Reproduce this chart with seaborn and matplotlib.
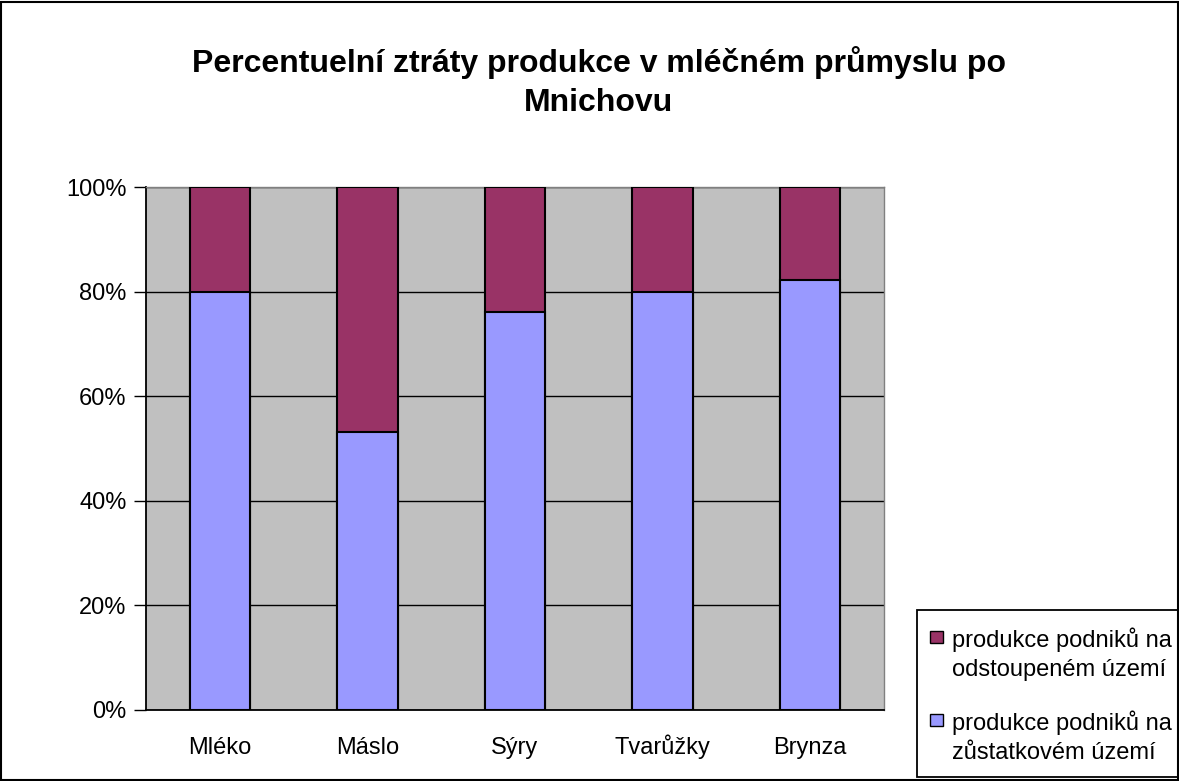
import matplotlib
matplotlib.use("Agg")
import matplotlib.pyplot as plt
import seaborn as sns
import pandas as pd
from matplotlib.patches import Rectangle

# data
kategorie = ["Mléko", "Máslo", "Sýry", "Tvarůžky", "Brynza"]
zustatkove = [80.0, 53.2, 76.1, 80.0, 82.2]      # produkce na zůstatkovém území (%)
odstoupene = [20.0, 46.8, 23.9, 20.0, 17.8]      # produkce na odstoupeném území (%)
y_ticks = [0, 20, 40, 60, 80, 100]
legenda = ["produkce podniků na\nodstoupeném území", "produkce podniků na\nzůstatkovém území"]

df = pd.DataFrame({"kat": kategorie, "zust": zustatkove, "odst": odstoupene})
df["celkem"] = df["zust"] + df["odst"]

sns.set_style("white")
plt.rcParams["font.family"] = ["Liberation Sans", "DejaVu Sans"]
plt.rcParams["text.color"] = "black"
plt.rcParams["xtick.color"] = "black"
plt.rcParams["ytick.color"] = "black"

W, H = 1179, 781
fig = plt.figure(figsize=(W / 100, H / 100), dpi=100)
ax = fig.add_axes([146/W, 71/H, 738/W, 523/H])
ax.set_facecolor("#C0C0C0")

cerv = "#993366"
modr = "#9999FF"

# stacked bars: full height in maroon, blue part on top of it
sns.barplot(data=df, x="kat", y="celkem", color=cerv, width=0.41, saturation=1,
            edgecolor="black", linewidth=1.5, ax=ax, zorder=3)
sns.barplot(data=df, x="kat", y="zust", color=modr, width=0.41, saturation=1,
            edgecolor="black", linewidth=1.5, ax=ax, zorder=4)

ax.set_xlim(-0.5, 4.5)
ax.set_ylim(0, 100)
ax.set_yticks(y_ticks)
ax.set_yticklabels([f"{v}%" for v in y_ticks], fontsize=17)
ax.yaxis.grid(True, color="black", linewidth=1)
ax.set_axisbelow(True)
ax.set_xlabel("")
ax.set_ylabel("")

ax.tick_params(axis="x", which="major", length=0, labelsize=17, pad=32)
for lbl in ax.get_xticklabels():
    lbl.set_verticalalignment("baseline")
ax.set_xticks([i - 0.5 for i in range(6)], minor=True)
ax.tick_params(axis="x", which="minor", length=8, width=1, direction="out", color="black")
ax.tick_params(axis="y", length=9, width=1, direction="out", color="black", left=True, pad=5)

for s in ["left", "bottom"]:
    ax.spines[s].set_color("black")
    ax.spines[s].set_linewidth(1.3)
for s in ["top", "right"]:
    ax.spines[s].set_color("#808080")
    ax.spines[s].set_linewidth(1)

fig.text(599/W, 1 - 82/H, "Percentuelní ztráty produkce v mléčném průmyslu po\nMnichovu",
         ha="center", va="center", fontsize=23, fontweight="bold", linespacing=1.4)

# legend box (cut off by the right edge like in the original)
fig.patches.append(Rectangle((917/W, 1 - 777/H), 300/W, 167/H, transform=fig.transFigure,
                             facecolor="white", edgecolor="black", linewidth=1.3))
for i, (txt, col) in enumerate(zip(legenda, [cerv, modr])):
    top = 631 + i * 83
    fig.patches.append(Rectangle((930/W, 1 - (top + 12)/H), 13/W, 12/H, transform=fig.transFigure,
                                 facecolor=col, edgecolor="black", linewidth=1))
    fig.text(952/W, 1 - (top + 23)/H, txt, ha="left", va="center", fontsize=17, linespacing=1.4)

fig.patches.append(Rectangle((0.001, 0.001), 0.998, 0.997, transform=fig.transFigure,
                             fill=False, edgecolor="black", linewidth=1.5))

fig.savefig("out.png", dpi=100)
